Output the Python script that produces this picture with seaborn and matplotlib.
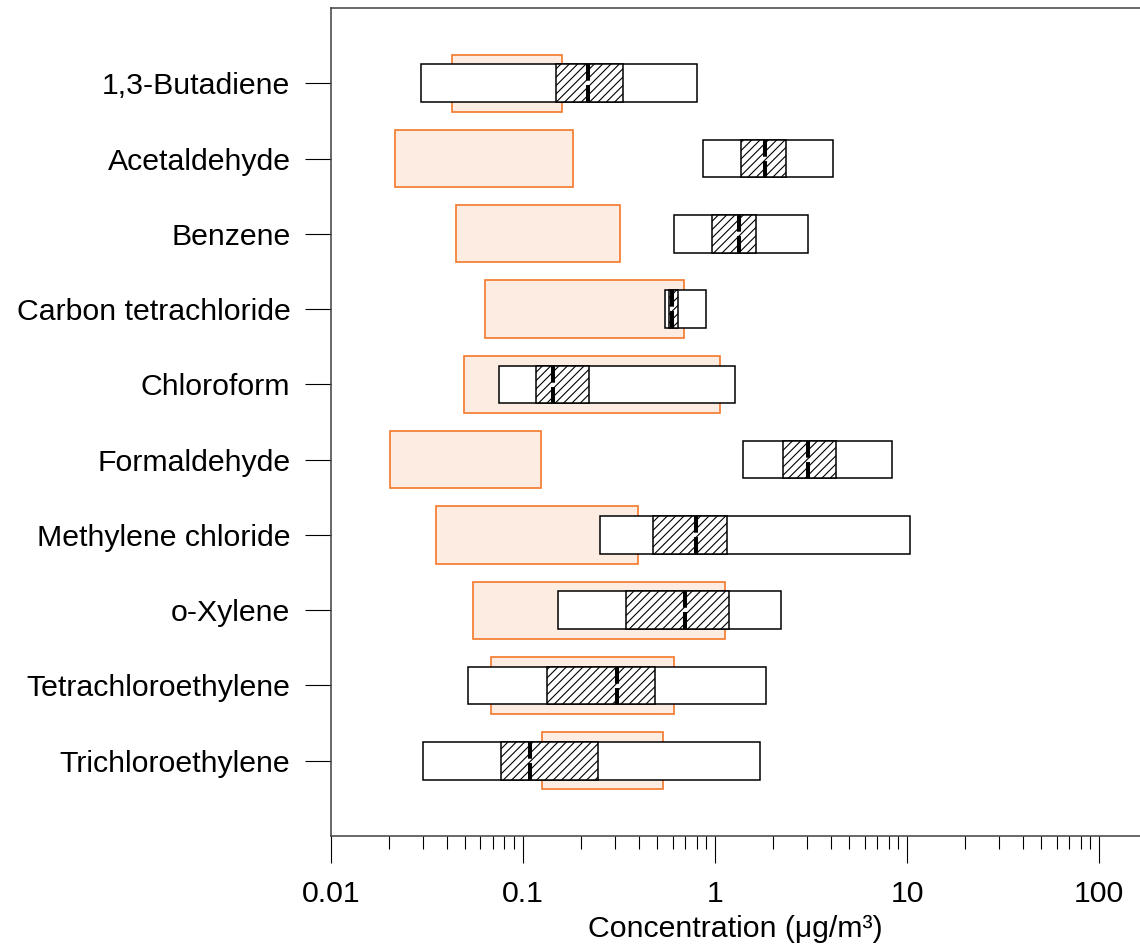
import numpy as np
import matplotlib
matplotlib.use("Agg")
import matplotlib.pyplot as plt
import seaborn as sns

# Compounds, top to bottom
compounds = [
    "1,3-Butadiene", "Acetaldehyde", "Benzene", "Carbon tetrachloride",
    "Chloroform", "Formaldehyde", "Methylene chloride", "o-Xylene",
    "Tetrachloroethylene", "Trichloroethylene",
]

# Background range (orange band), µg/m3
ref_low = [0.0427, 0.0215, 0.0448, 0.0634, 0.0491, 0.0203, 0.0352, 0.0550, 0.0680, 0.1256]
ref_high = [0.160, 0.182, 0.320, 0.692, 1.06, 0.124, 0.397, 1.127, 0.611, 0.536]

# Measured distribution: min, 25th pct, median, 75th pct, max (µg/m3)
obs_min = [0.0294, 0.866, 0.611, 0.547, 0.0753, 1.40, 0.252, 0.152, 0.0517, 0.0301]
obs_q1 = [0.1485, 1.366, 0.964, 0.575, 0.1164, 2.26, 0.475, 0.344, 0.133, 0.0768]
obs_median = [0.218, 1.82, 1.33, 0.599, 0.1428, 3.05, 0.796, 0.698, 0.309, 0.1087]
obs_q3 = [0.332, 2.34, 1.64, 0.639, 0.2215, 4.27, 1.155, 1.18, 0.487, 0.246]
obs_max = [0.805, 4.12, 3.05, 0.895, 1.276, 8.35, 10.4, 2.21, 1.84, 1.71]

x_ticks = [0.01, 0.1, 1, 10, 100]
x_tick_labels = ["0.01", "0.1", "1", "10", "100"]

sns.set_theme(style="ticks")
plt.rcParams["font.family"] = ["Liberation Sans", "DejaVu Sans"]
plt.rcParams["hatch.linewidth"] = 0.8
plt.rcParams["hatch.color"] = "black"
plt.rcParams["text.color"] = "black"
plt.rcParams["axes.labelcolor"] = "black"
plt.rcParams["xtick.color"] = "black"
plt.rcParams["ytick.color"] = "black"

fig = plt.figure(figsize=(11.4, 9.51), dpi=100)
ax = fig.add_axes([331 / 1140, 115 / 951, 809 / 1140, 828 / 951])

y = np.arange(len(compounds))
ref_low_a, ref_high_a = np.array(ref_low), np.array(ref_high)
mn, q1, md, q3, mx = map(np.array, (obs_min, obs_q1, obs_median, obs_q3, obs_max))

orange = "#F4782A"
peach = "#FDECE1"

# Background range bands
ax.barh(y, ref_high_a - ref_low_a, left=ref_low_a, height=0.76,
        color=peach, edgecolor=orange, linewidth=1.2, zorder=1)

# Full measured range (min-max)
ax.barh(y, mx - mn, left=mn, height=0.5, color="white",
        edgecolor="black", linewidth=1.1, zorder=2)

# Interquartile range, hatched
ax.barh(y, q3 - q1, left=q1, height=0.5, color="white", hatch="////",
        edgecolor="black", linewidth=1.1, zorder=3)

# Median marker
ax.vlines(md, y - 0.25, y + 0.25, colors="black", linewidth=2.9,
          linestyles=[(0, (4.15, 1.075))], capstyle="butt", zorder=4)

ax.set_xscale("log")
ax.set_xlim(0.01, 163)
ax.set_ylim(10, -1)

ax.set_xticks(x_ticks)
ax.set_xticklabels(x_tick_labels)
ax.xaxis.set_minor_locator(matplotlib.ticker.LogLocator(base=10, subs=np.arange(2, 10)))
ax.xaxis.set_minor_formatter(matplotlib.ticker.NullFormatter())
ax.set_yticks(y)
ax.set_yticklabels(compounds)

ax.tick_params(axis="x", which="major", length=19.4, width=0.8, color="black",
               labelsize=21.8, pad=12.5, direction="out", labelcolor="black")
ax.tick_params(axis="x", which="minor", length=9.4, width=0.8, color="black",
               direction="out")
ax.tick_params(axis="y", which="major", length=18.7, width=0.8, color="black",
               labelsize=21.8, pad=10.5, direction="out", labelcolor="black")

ax.set_xlabel("Concentration (μg/m³)", fontsize=21.8, labelpad=5, color="black")

sns.despine(ax=ax, top=False, right=True)
for side in ("left", "top", "bottom"):
    ax.spines[side].set_color("#404040")
    ax.spines[side].set_linewidth(1.1)

fig.savefig("out.png", dpi=100)
